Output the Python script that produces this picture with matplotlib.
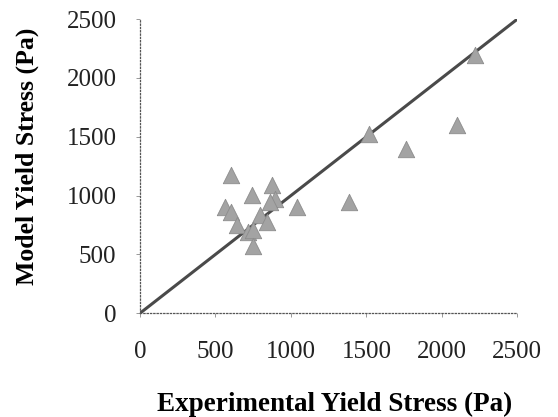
import matplotlib
matplotlib.use("Agg")
import matplotlib.pyplot as plt
import numpy as np

# experimental vs model yield stress (Pa)
experimental = [2220, 2100, 1760, 1520, 1385, 1043, 601, 740, 873, 895, 861,
                563, 601, 641, 795, 840, 718, 750, 751]
model = [2193, 1598, 1399, 1527, 945, 907, 1179, 1007, 1094, 975, 944,
         904, 859, 746, 831, 774, 689, 703, 567]
ticks = [0, 500, 1000, 1500, 2000, 2500]

plt.rcParams['font.family'] = ['Liberation Serif', 'DejaVu Serif']

fig = plt.figure(figsize=(5.58, 4.17), dpi=100)
ax = fig.add_axes([0.251, 0.249, 0.676, 0.705])

# 1:1 line
ax.plot([0, 2500], [0, 2500], color='#4a4a4a', lw=2.2, zorder=2)
ax.scatter(experimental, model, marker='^', s=140, color='#a3a3a3',
           edgecolors='#8c8c8c', linewidths=0.6, zorder=3)

ax.set_xlim(0, 2500)
ax.set_ylim(0, 2500)
ax.set_xticks(ticks)
ax.set_yticks(ticks)
ax.tick_params(labelsize=18, length=3, width=0.6, color='#888888',
               labelcolor='#222222')
ax.tick_params(axis='x', pad=17)
ax.tick_params(axis='y', pad=14)

for side in ['top', 'right']:
    ax.spines[side].set_visible(False)
for side in ['left', 'bottom']:
    ax.spines[side].set_linestyle(':')
    ax.spines[side].set_color('#555555')
    ax.spines[side].set_linewidth(0.9)

ax.set_xlabel('Experimental Yield Stress (Pa)', fontsize=19.5, fontweight='bold',
              va='center', ha='center')
ax.set_ylabel('Model Yield Stress (Pa)', fontsize=18.5, fontweight='bold',
              va='center', ha='center')
ax.xaxis.set_label_coords(0.517, -0.31)
ax.yaxis.set_label_coords(-0.30, 0.532)

fig.savefig('out.png', dpi=100)
